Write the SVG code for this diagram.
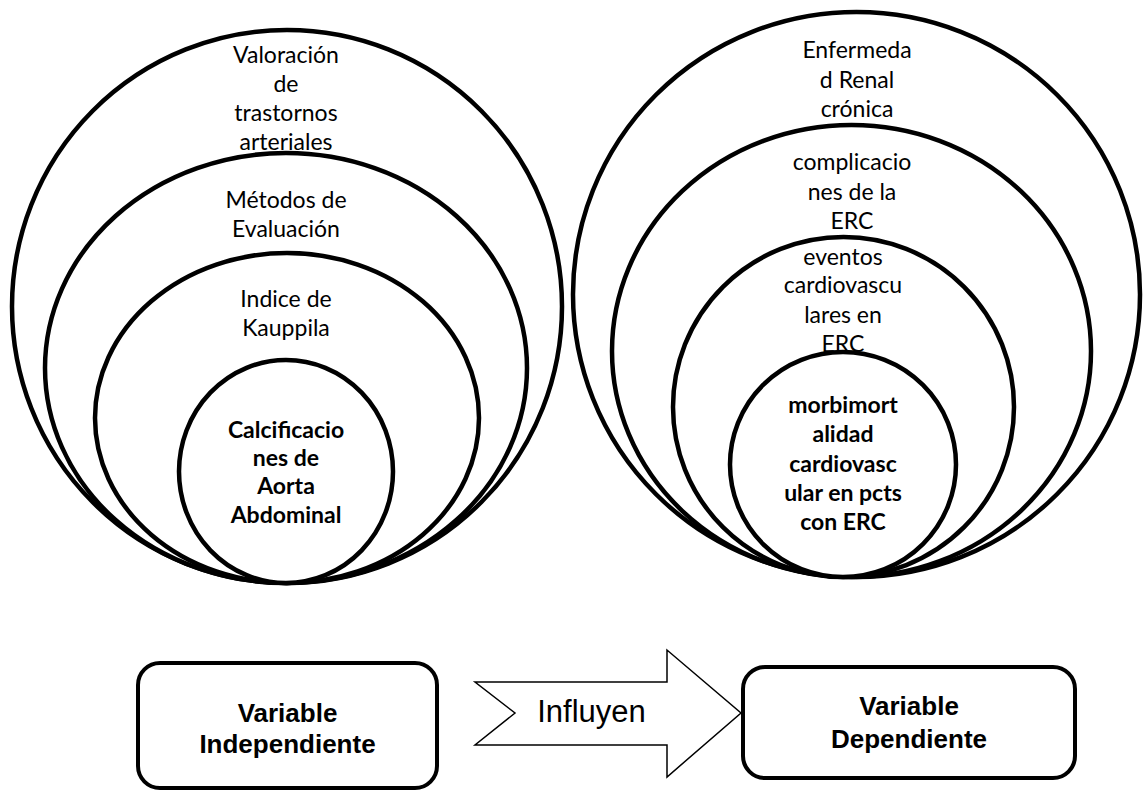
<svg xmlns="http://www.w3.org/2000/svg" width="1145" height="792" viewBox="0 0 1145 792">
<style>
.c{fill:#fff;stroke:#000;stroke-width:4.5}
.t{font-family:Lato,"Open Sans",sans-serif;font-size:23px;text-anchor:middle;fill:#000}
.b{font-weight:bold}
.box{fill:#fff;stroke:#000;stroke-width:4}
.bt{font-family:"Liberation Sans",Arial,sans-serif;font-size:26px;font-weight:bold;text-anchor:middle;fill:#000}
.arr{fill:#fff;stroke:#000;stroke-width:1.5;stroke-linejoin:miter}
</style>
<rect width="1145" height="792" fill="#fff"/>
<g id="left-set">
  <g id="valoracion">
    <ellipse class="c" cx="287" cy="306.5" rx="275" ry="276.5"/>
    <text class="t" x="286" y="63">Valoración</text>
    <text class="t" x="286" y="92">de</text>
    <text class="t" x="286" y="121">trastornos</text>
    <text class="t" x="286" y="150">arteriales</text>
  </g>
  <g id="metodos">
    <ellipse class="c" cx="286" cy="368" rx="241" ry="215"/>
    <text class="t" x="286" y="208">Métodos de</text>
    <text class="t" x="286" y="237">Evaluación</text>
  </g>
  <g id="indice">
    <ellipse class="c" cx="287" cy="418" rx="192" ry="165"/>
    <text class="t" x="286" y="307">Indice de</text>
    <text class="t" x="286" y="336">Kauppila</text>
  </g>
  <g id="calcificaciones">
    <ellipse class="c" cx="286" cy="471.5" rx="107" ry="111.5"/>
    <text class="t b" x="286" y="438">Calcificacio</text>
    <text class="t b" x="286" y="466">nes de</text>
    <text class="t b" x="286" y="494">Aorta</text>
    <text class="t b" x="286" y="523">Abdominal</text>
  </g>
</g>
<g id="right-set">
  <g id="erc">
    <ellipse class="c" cx="856.5" cy="294.5" rx="283.5" ry="282.5"/>
    <text class="t" x="857" y="58">Enfermeda</text>
    <text class="t" x="857" y="88">d Renal</text>
    <text class="t" x="857" y="117">crónica</text>
  </g>
  <g id="complicaciones">
    <ellipse class="c" cx="851.5" cy="351" rx="239.5" ry="226"/>
    <text class="t" x="852" y="170">complicacio</text>
    <text class="t" x="852" y="200">nes de la</text>
    <text class="t" x="852" y="229">ERC</text>
  </g>
  <g id="eventos">
    <ellipse class="c" cx="843.5" cy="407" rx="170.5" ry="170"/>
    <text class="t" x="843" y="265">eventos</text>
    <text class="t" x="843" y="293">cardiovascu</text>
    <text class="t" x="843" y="323">lares en</text>
    <text class="t" x="843" y="352">ERC</text>
  </g>
  <g id="morbimortalidad">
    <ellipse class="c" cx="843" cy="464.5" rx="113" ry="112.5"/>
    <text class="t b" x="843" y="413">morbimort</text>
    <text class="t b" x="843" y="442">alidad</text>
    <text class="t b" x="843" y="472">cardiovasc</text>
    <text class="t b" x="843" y="501">ular en pcts</text>
    <text class="t b" x="843" y="530">con ERC</text>
  </g>
</g>
<g id="independiente">
  <rect class="box" x="138" y="663" width="299" height="125" rx="22"/>
  <text class="bt" x="287.5" y="722">Variable</text>
  <text class="bt" x="287.5" y="753">Independiente</text>
</g>
<g id="connectors">
  <polygon class="arr" points="475,682 667,682 667,650 741,713 667,777 667,745 475,745 515,713"/>
  <text x="591.5" y="722" font-family="'Liberation Sans',Arial,sans-serif" font-size="31" text-anchor="middle">Influyen</text>
</g>
<g id="dependiente">
  <rect class="box" x="743" y="667" width="332" height="111" rx="22"/>
  <text class="bt" x="909" y="715">Variable</text>
  <text class="bt" x="909" y="748">Dependiente</text>
</g>
</svg>
